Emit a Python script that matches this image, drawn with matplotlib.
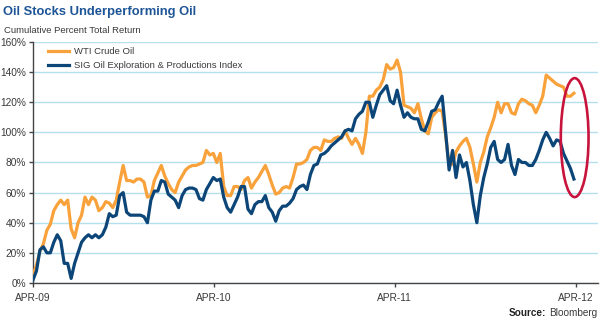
import numpy as np
import pandas as pd
import matplotlib
matplotlib.use("Agg")
import matplotlib.pyplot as plt
import matplotlib.dates as mdates
from matplotlib.patches import Ellipse

# =========================
# data (weekly, % cumulative total return)
# =========================
start_date = "2009-04-01"

wti = [
    5, 12, 21, 26, 35, 39, 48, 52, 55, 52,
    55, 36, 30, 40, 45, 57, 52, 57, 55, 48,
    50, 54, 53, 50, 55, 67, 78, 68, 68, 67,
    69, 69, 67, 57, 58, 68, 73, 78, 71, 66,
    62, 60, 67, 71, 75, 77, 78, 78, 79, 80,
    88, 85, 86, 80, 86, 64, 58, 58, 64, 64,
    62, 68, 70, 63, 67, 70, 74, 78, 72, 65,
    59, 60, 63, 64, 63, 70, 79, 79, 80, 82,
    88, 90, 90, 88, 95, 94, 94, 96, 97, 96,
    101, 96, 92, 96, 92, 86, 100, 124, 124, 128,
    130, 135, 145, 142, 143, 148, 140, 118, 117, 116,
    113, 119, 109, 101, 99, 110, 113, 115, 114, 98,
    78, 79, 87, 91, 94, 96, 90, 79, 67, 80,
    87, 97, 103, 110, 120, 113, 119, 119, 113, 112,
    119, 122, 121, 119, 118, 113, 118, 124, 138, 136,
    134, 132, 131, 130, 124, 124, 126,
]

sig = [
    2, 8, 22, 24, 20, 20, 27, 32, 28, 13,
    13, 3, 13, 20, 27, 30, 32, 30, 32, 30,
    32, 37, 46, 44, 45, 58, 60, 47, 45, 45,
    45, 45, 44, 40, 55, 61, 61, 68, 67, 59,
    57, 55, 50, 58, 62, 63, 63, 62, 56, 55,
    62, 66, 70, 68, 69, 57, 50, 47, 52, 57,
    64, 64, 49, 46, 52, 54, 54, 58, 50, 47,
    41, 48, 51, 51, 53, 56, 62, 64, 65, 62,
    72, 78, 79, 85, 86, 88, 91, 93, 95, 97,
    101, 102, 101, 109, 112, 114, 120, 120, 110, 118,
    125, 128, 131, 121, 119, 128, 118, 110, 113, 110,
    109, 109, 102, 101, 107, 114, 115, 120, 124, 100,
    75, 88, 70, 85, 77, 80, 68, 52, 40, 58,
    70, 79, 90, 94, 82, 80, 82, 92, 78, 72,
    82, 80, 80, 78, 78, 82, 88, 95, 100, 96,
    91, 95, 94, 86, 81, 76, 69,
]

series_names = ["WTI Crude Oil", "SIG Oil Exploration & Productions Index"]
tick_dates = ["2009-04-01", "2010-04-01", "2011-04-01", "2012-04-01"]
tick_labels = ["APR-09", "APR-10", "APR-11", "APR-12"]
y_ticks = [0, 20, 40, 60, 80, 100, 120, 140, 160]

dates = pd.date_range(start_date, periods=len(wti), freq="7D")

# =========================
# style
# =========================
plt.rcParams["font.family"] = ["Liberation Sans", "DejaVu Sans"]

ORANGE = "#F9A13A"
NAVY = "#0C4679"
TITLE = "#1D5596"
GRID = "#B4E0EC"
TEXT = "#3a3a3a"

fig = plt.figure(figsize=(6.0, 3.23), dpi=100)
ax = fig.add_axes([0.055, 0.124, 0.942, 0.746])

ax.plot(dates, wti, color=ORANGE, linewidth=2.3, label=series_names[0], zorder=3)
ax.plot(dates, sig, color=NAVY, linewidth=2.3, label=series_names[1], zorder=4)

# red ellipse around the last weeks
e = Ellipse((mdates.date2num(dates[-1]) + 1.5, 96.5), width=56, height=79,
            fill=False, edgecolor="#C8143C", linewidth=1.9, zorder=5, clip_on=False)
ax.add_patch(e)

# =========================
# axes
# =========================
ax.set_ylim(0, 160)
ax.set_xlim(pd.Timestamp(start_date), pd.Timestamp("2012-05-16"))
ax.set_yticks(y_ticks)
ax.set_yticklabels([f"{v}%" for v in y_ticks])
ax.set_xticks(pd.to_datetime(tick_dates))
ax.set_xticklabels(tick_labels)

ax.grid(axis="y", color=GRID, linewidth=1.0, zorder=0)
ax.set_axisbelow(True)

for s in ["top", "right"]:
    ax.spines[s].set_visible(False)
for s in ["left", "bottom"]:
    ax.spines[s].set_color("#444444")
    ax.spines[s].set_linewidth(1.0)

ax.tick_params(axis="y", length=3, width=1, color="#444444", labelsize=7.3,
               labelcolor=TEXT, pad=2)
ax.tick_params(axis="x", length=3, width=1, color="#444444", labelsize=7.3,
               labelcolor=TEXT, pad=4)

leg = ax.legend(loc="upper left", bbox_to_anchor=(0.026, 0.98), frameon=False,
                fontsize=6.8, handlelength=2.3, handletextpad=0.5,
                labelspacing=0.55, borderpad=0, borderaxespad=0)
for t in leg.get_texts():
    t.set_color(TEXT)

# =========================
# titles / source
# =========================
fig.text(0.005, 0.962, "Oil Stocks Underperforming Oil", fontsize=9.4,
         fontweight="bold", color=TITLE, va="center", ha="left")
fig.text(0.006, 0.905, "Cumulative Percent Total Return", fontsize=6.8,
         color=TEXT, va="center", ha="left")

src = fig.text(0.995, 0.03, "Bloomberg", fontsize=7.2, color=TEXT,
               ha="right", va="center")
fig.canvas.draw()
bb = src.get_window_extent().transformed(fig.transFigure.inverted())
fig.text(bb.x0 - 0.004, 0.03, "Source:", fontsize=7.2, fontweight="bold",
         color="#222222", ha="right", va="center")

plt.savefig("out.png", dpi=100)
plt.close()
